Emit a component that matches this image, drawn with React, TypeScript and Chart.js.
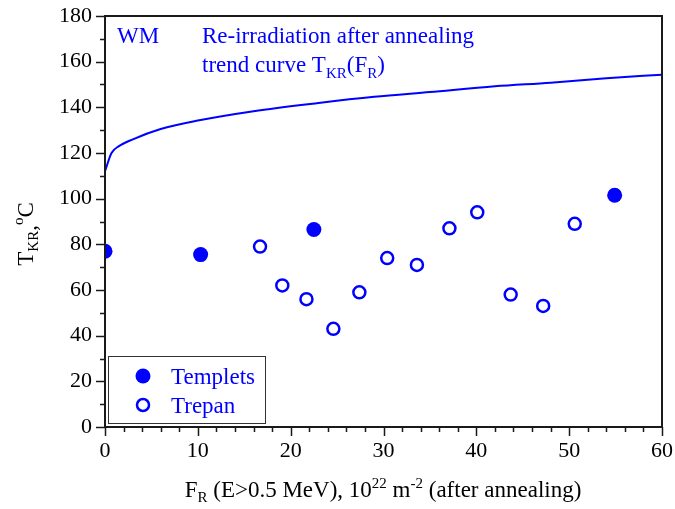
import React, { useEffect, useRef } from "react";
import { Chart, registerables } from "chart.js";

Chart.register(...registerables);

// Data
const templetsX = [0, 10.3, 22.5, 54.9];
const templetsY = [77, 75.5, 86.5, 101.5];
const trepanX = [16.7, 19.1, 21.7, 24.6, 27.4, 30.4, 33.6, 37.1, 40.1, 43.7, 47.2, 50.6];
const trepanY = [79, 62, 56, 43, 59, 74, 71, 87, 94, 58, 53, 89];
const trendX = [0, 0.7, 1.5, 3, 6, 10, 16, 23, 29, 35, 42, 48, 54, 60];
const trendY = [112, 120, 123, 126, 130.5, 134.2, 138.3, 141.9, 144.6, 146.7, 149.2, 150.8, 152.7, 154.3];

const xMin = 0, xMax = 60, xMajor = 10, xMinor = 2;
const yMin = 0, yMax = 180, yMajor = 20, yMinor = 10;

const FONT = "'Liberation Serif', 'Times New Roman', serif";
const BLUE = "#0000ff";
const TXT = 23;
const SUB = 15;

type Part = { t: string; s: number; dy: number };

function drawRich(ctx: CanvasRenderingContext2D, parts: Part[], x: number, y: number, align: "left" | "center") {
  let total = 0;
  for (const p of parts) {
    ctx.font = `${p.s}px ${FONT}`;
    total += ctx.measureText(p.t).width;
  }
  let cx = align === "center" ? x - total / 2 : x;
  ctx.textAlign = "left";
  ctx.textBaseline = "alphabetic";
  for (const p of parts) {
    ctx.font = `${p.s}px ${FONT}`;
    ctx.fillText(p.t, cx, y + p.dy);
    cx += ctx.measureText(p.t).width;
  }
}

const decorPlugin = {
  id: "decor",
  afterDraw(chart: any) {
    const { ctx, chartArea } = chart;
    const { left, right, top, bottom } = chartArea;
    const xs = chart.scales.x;
    const ys = chart.scales.y;
    ctx.save();
    // frame
    ctx.strokeStyle = "#1a1a1a";
    ctx.lineWidth = 2;
    ctx.strokeRect(left, top, right - left, bottom - top);
    // ticks
    ctx.lineWidth = 1.5;
    ctx.beginPath();
    for (let v = xMin; v <= xMax + 1e-9; v += xMinor) {
      const px = Math.round(xs.getPixelForValue(v)) + 0.5;
      const len = Math.abs(v % xMajor) < 1e-9 ? 9 : 5;
      ctx.moveTo(px, bottom);
      ctx.lineTo(px, bottom + len);
    }
    for (let v = yMin; v <= yMax + 1e-9; v += yMinor) {
      const py = Math.round(ys.getPixelForValue(v)) + 0.5;
      const len = Math.abs(v % yMajor) < 1e-9 ? 9 : 5;
      ctx.moveTo(left, py);
      ctx.lineTo(left - len, py);
    }
    ctx.stroke();

    // axis titles
    ctx.fillStyle = "#000";
    drawRich(ctx, [
      { t: "F", s: TXT, dy: 0 },
      { t: "R", s: SUB, dy: 5 },
      { t: " (E>0.5 MeV), 10", s: TXT, dy: 0 },
      { t: "22", s: SUB, dy: -9 },
      { t: " m", s: TXT, dy: 0 },
      { t: "-2", s: SUB, dy: -9 },
      { t: " (after annealing)", s: TXT, dy: 0 },
    ], 383, 497, "center");

    ctx.save();
    ctx.translate(33, 234);
    ctx.rotate(-Math.PI / 2);
    drawRich(ctx, [
      { t: "T", s: TXT, dy: 0 },
      { t: "KR", s: SUB, dy: 5 },
      { t: ",", s: TXT, dy: 3 },
      { t: "o", s: SUB, dy: -10 },
      { t: "C", s: TXT, dy: 0 },
    ], 0, 0, "center");
    ctx.restore();

    // annotations
    ctx.fillStyle = BLUE;
    drawRich(ctx, [{ t: "WM", s: TXT, dy: 0 }], 117, 43, "left");
    drawRich(ctx, [{ t: "Re-irradiation after annealing", s: TXT, dy: 0 }], 202, 43, "left");
    drawRich(ctx, [
      { t: "trend curve T", s: TXT, dy: 0 },
      { t: "KR", s: SUB, dy: 6 },
      { t: "(F", s: TXT, dy: 0 },
      { t: "R", s: SUB, dy: 6 },
      { t: ")", s: TXT, dy: 0 },
    ], 202, 72, "left");

    // legend
    ctx.fillStyle = "#fff";
    ctx.fillRect(108.5, 356.5, 157, 67);
    ctx.strokeStyle = "#333";
    ctx.lineWidth = 1;
    ctx.strokeRect(108.5, 356.5, 157, 67);
    ctx.fillStyle = BLUE;
    ctx.beginPath();
    ctx.arc(143, 376, 7.5, 0, Math.PI * 2);
    ctx.fill();
    ctx.strokeStyle = BLUE;
    ctx.lineWidth = 2.5;
    ctx.beginPath();
    ctx.arc(143, 405, 6, 0, Math.PI * 2);
    ctx.stroke();
    drawRich(ctx, [{ t: "Templets", s: TXT, dy: 0 }], 171, 384, "left");
    drawRich(ctx, [{ t: "Trepan", s: TXT, dy: 0 }], 171, 413, "left");
    ctx.restore();
  },
};

function zeroPad(s: any) {
  s.paddingLeft = 0;
  s.paddingRight = 0;
  s.paddingTop = 0;
  s.paddingBottom = 0;
}

export default function App() {
  const ref = useRef<HTMLCanvasElement | null>(null);
  useEffect(() => {
    if (!ref.current) return;
    const chart = new Chart(ref.current, {
      type: "scatter",
      data: {
        datasets: [
          {
            label: "trend",
            data: trendX.map((x, i) => ({ x, y: trendY[i] })),
            showLine: true,
            borderColor: BLUE,
            borderWidth: 2,
            pointRadius: 0,
            cubicInterpolationMode: "monotone",
            clip: 0,
          } as any,
          {
            label: "Templets",
            data: templetsX.map((x, i) => ({ x, y: templetsY[i] })),
            backgroundColor: BLUE,
            borderColor: BLUE,
            borderWidth: 0,
            pointRadius: 7.5,
            clip: 0,
          } as any,
          {
            label: "Trepan",
            data: trepanX.map((x, i) => ({ x, y: trepanY[i] })),
            backgroundColor: "#fff",
            borderColor: BLUE,
            borderWidth: 2.5,
            pointRadius: 6,
            clip: 0,
          } as any,
        ],
      },
      options: {
        responsive: false,
        animation: false,
        devicePixelRatio: 1,
        layout: { padding: { top: 16, right: 13, left: 0, bottom: 0 } },
        plugins: { legend: { display: false }, tooltip: { enabled: false } },
        scales: {
          x: {
            type: "linear",
            min: xMin,
            max: xMax,
            grid: { display: false, drawTicks: false },
            border: { display: false },
            ticks: { stepSize: xMajor, color: "#000", font: { family: FONT, size: 22 }, padding: 11, maxRotation: 0 },
            afterFit: (s: any) => { s.height = 82; zeroPad(s); },
          },
          y: {
            type: "linear",
            min: yMin,
            max: yMax,
            grid: { display: false, drawTicks: false },
            border: { display: false },
            ticks: { stepSize: yMajor, color: "#000", font: { family: FONT, size: 22 }, padding: 13 },
            afterFit: (s: any) => { s.width = 105; zeroPad(s); },
          },
        },
      } as any,
      plugins: [decorPlugin],
    });
    return () => chart.destroy();
  }, []);
  return (
    <div style={{ position: "absolute", left: 0, top: 0, width: 675, height: 509, background: "#fff" }}>
      <canvas ref={ref} width={675} height={509} style={{ width: 675, height: 509 }} />
    </div>
  );
}
